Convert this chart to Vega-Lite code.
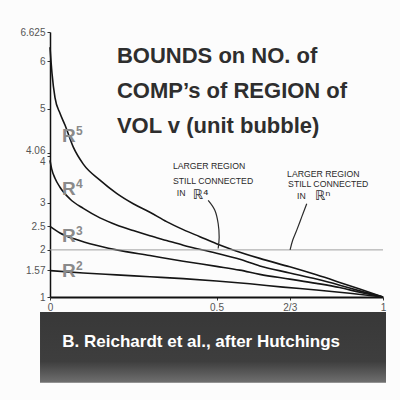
{
  "$schema": "https://vega.github.io/schema/vega-lite/v6.json",
  "width": 333,
  "height": 265,
  "autosize": {"type": "none"},
  "padding": {"left": 50, "top": 32, "right": 17, "bottom": 103},
  "background": "#fcfcfc",
  "config": {"view": {"stroke": null}, "font": "Liberation Sans",
    "axis": {"labelOverlap": false, "labelBound": false, "labelFlush": false, "grid": false, "labelColor": "#555", "labelFontSize": 10, "labelPadding": 2, "tickSize": 3, "tickColor": "#333", "domainColor": "#111"}},
  "datasets": {
    "curves": [
      {"s": "R5", "x": 0, "y": 6.3}, {"s": "R5", "x": 0.006, "y": 5.75}, {"s": "R5", "x": 0.015, "y": 5.23}, {"s": "R5", "x": 0.03, "y": 4.9}, {"s": "R5", "x": 0.045, "y": 4.65}, {"s": "R5", "x": 0.07, "y": 4.18}, {"s": "R5", "x": 0.1, "y": 3.82}, {"s": "R5", "x": 0.15, "y": 3.48}, {"s": "R5", "x": 0.2, "y": 3.2}, {"s": "R5", "x": 0.25, "y": 2.98}, {"s": "R5", "x": 0.3, "y": 2.8}, {"s": "R5", "x": 0.35, "y": 2.6}, {"s": "R5", "x": 0.4, "y": 2.43}, {"s": "R5", "x": 0.45, "y": 2.28}, {"s": "R5", "x": 0.5, "y": 2.13}, {"s": "R5", "x": 0.55, "y": 2.0}, {"s": "R5", "x": 0.63, "y": 1.82}, {"s": "R5", "x": 0.72, "y": 1.64}, {"s": "R5", "x": 0.8, "y": 1.47}, {"s": "R5", "x": 0.87, "y": 1.31}, {"s": "R5", "x": 0.93, "y": 1.17}, {"s": "R5", "x": 1, "y": 1},
      {"s": "R4", "x": 0, "y": 3.9}, {"s": "R4", "x": 0.005, "y": 3.72}, {"s": "R4", "x": 0.015, "y": 3.52}, {"s": "R4", "x": 0.03, "y": 3.33}, {"s": "R4", "x": 0.06, "y": 3.08}, {"s": "R4", "x": 0.1, "y": 2.88}, {"s": "R4", "x": 0.15, "y": 2.68}, {"s": "R4", "x": 0.2, "y": 2.53}, {"s": "R4", "x": 0.25, "y": 2.41}, {"s": "R4", "x": 0.3, "y": 2.3}, {"s": "R4", "x": 0.35, "y": 2.2}, {"s": "R4", "x": 0.4, "y": 2.1}, {"s": "R4", "x": 0.5, "y": 1.93}, {"s": "R4", "x": 0.57, "y": 1.8}, {"s": "R4", "x": 0.63, "y": 1.66}, {"s": "R4", "x": 0.72, "y": 1.51}, {"s": "R4", "x": 0.8, "y": 1.38}, {"s": "R4", "x": 0.87, "y": 1.25}, {"s": "R4", "x": 0.93, "y": 1.13}, {"s": "R4", "x": 1, "y": 1},
      {"s": "R3", "x": 0, "y": 2.5}, {"s": "R3", "x": 0.03, "y": 2.36}, {"s": "R3", "x": 0.07, "y": 2.24}, {"s": "R3", "x": 0.12, "y": 2.13}, {"s": "R3", "x": 0.2, "y": 2.0}, {"s": "R3", "x": 0.3, "y": 1.88}, {"s": "R3", "x": 0.4, "y": 1.76}, {"s": "R3", "x": 0.5, "y": 1.65}, {"s": "R3", "x": 0.57, "y": 1.57}, {"s": "R3", "x": 0.63, "y": 1.48}, {"s": "R3", "x": 0.72, "y": 1.38}, {"s": "R3", "x": 0.8, "y": 1.29}, {"s": "R3", "x": 0.87, "y": 1.2}, {"s": "R3", "x": 0.93, "y": 1.1}, {"s": "R3", "x": 1, "y": 1},
      {"s": "R2", "x": 0, "y": 1.56}, {"s": "R2", "x": 0.1, "y": 1.51}, {"s": "R2", "x": 0.2, "y": 1.47}, {"s": "R2", "x": 0.3, "y": 1.43}, {"s": "R2", "x": 0.4, "y": 1.39}, {"s": "R2", "x": 0.5, "y": 1.34}, {"s": "R2", "x": 0.6, "y": 1.28}, {"s": "R2", "x": 0.7, "y": 1.21}, {"s": "R2", "x": 0.8, "y": 1.15}, {"s": "R2", "x": 0.9, "y": 1.08}, {"s": "R2", "x": 1, "y": 1}
    ],
    "rlabels": [
      {"n": "5", "x": 0.036, "y": 4.28},
      {"n": "4", "x": 0.036, "y": 3.16},
      {"n": "3", "x": 0.036, "y": 2.16},
      {"n": "2", "x": 0.036, "y": 1.42}
    ],
    "notes": [
      {"t": "LARGER REGION", "x": 0.369, "y": 3.72},
      {"t": "STILL CONNECTED", "x": 0.369, "y": 3.4},
      {"t": "IN", "x": 0.381, "y": 3.14},
      {"t": "LARGER REGION", "x": 0.712, "y": 3.54},
      {"t": "STILL CONNECTED", "x": 0.715, "y": 3.33},
      {"t": "IN", "x": 0.742, "y": 3.09}
    ],
    "reals": [
      {"t": "ℝ⁴", "x": 0.429, "y": 3.09},
      {"t": "ℝⁿ", "x": 0.796, "y": 3.05}
    ],
    "arrows": [
      {"a": 1, "i": 0, "x": 0.475, "y": 3.05}, {"a": 1, "i": 1, "x": 0.495, "y": 2.84}, {"a": 1, "i": 2, "x": 0.505, "y": 2.56}, {"a": 1, "i": 3, "x": 0.508, "y": 2.27}, {"a": 1, "i": 4, "x": 0.505, "y": 2.03},
      {"a": 2, "i": 0, "x": 0.771, "y": 2.98}, {"a": 2, "i": 1, "x": 0.756, "y": 2.7}, {"a": 2, "i": 2, "x": 0.741, "y": 2.42}, {"a": 2, "i": 3, "x": 0.729, "y": 2.21}, {"a": 2, "i": 4, "x": 0.721, "y": 2.0}
    ]
  },
  "layer": [
    {
      "data": {"name": "curves"},
      "mark": {"type": "line", "interpolate": "monotone", "color": "#151515", "strokeWidth": 1.6},
      "encoding": {
        "x": {"field": "x", "type": "quantitative", "title": null,
          "scale": {"domain": [0, 1], "nice": false, "zero": false},
          "axis": {"values": [0, 0.5, 0.72, 1], "tickCount": 20, "labelExpr": "datum.value == 0.72 ? '2/3' : format(datum.value, '~g')",
            "domainWidth": 2}},
        "y": {"field": "y", "type": "quantitative", "title": null,
          "scale": {"domain": [1, 6.625], "nice": false, "zero": false},
          "axis": {"values": [1, 1.57, 2, 2.5, 3, 4, 4.06, 5, 6, 6.625], "tickCount": 20, "labelExpr": "format(datum.value, '~g')", "domainWidth": 1.5,
            "labelOffset": {"condition": [{"test": "datum.value === 4", "value": 6}, {"test": "datum.value === 4.06", "value": -2}], "value": 0}}},
        "detail": {"field": "s", "type": "nominal"}
      }
    },
    {
      "data": {"values": [{}]},
      "mark": {"type": "rect", "fill": {"gradient": "linear", "x1": 0, "y1": 0, "x2": 0, "y2": 1, "stops": [{"offset": 0, "color": "#383838"}, {"offset": 0.7, "color": "#3e3e3e"}, {"offset": 1, "color": "#707070"}]}},
      "encoding": {
        "x": {"datum": -0.03, "type": "quantitative"}, "x2": {"datum": 1.009},
        "y": {"datum": 0.683, "type": "quantitative"}, "y2": {"datum": -0.82}
      }
    },
    {
      "data": {"values": [{}]},
      "mark": {"type": "text", "text": "B. Reichardt et al., after Hutchings", "align": "center", "baseline": "alphabetic", "fontSize": 17, "fontWeight": "bold", "color": "#ffffff"},
      "encoding": {"x": {"datum": 0.454, "type": "quantitative"}, "y": {"datum": -0.057, "type": "quantitative"}}
    },
    {
      "data": {"values": [{}]},
      "mark": {"type": "rule", "color": "#a0a0a0", "strokeWidth": 1},
      "encoding": {"y": {"datum": 2, "type": "quantitative"}, "x": {"datum": 0, "type": "quantitative"}, "x2": {"datum": 1}}
    },
    {
      "data": {"name": "rlabels"},
      "mark": {"type": "text", "text": "R", "align": "left", "baseline": "alphabetic", "fontSize": 19, "fontWeight": "bold", "color": "#8a8a8a"},
      "encoding": {"x": {"field": "x", "type": "quantitative"}, "y": {"field": "y", "type": "quantitative"}}
    },
    {
      "data": {"name": "rlabels"},
      "mark": {"type": "text", "align": "left", "baseline": "alphabetic", "fontSize": 12, "fontWeight": "bold", "color": "#8a8a8a", "dx": 14, "dy": -7},
      "encoding": {"x": {"field": "x", "type": "quantitative"}, "y": {"field": "y", "type": "quantitative"}, "text": {"field": "n"}}
    },
    {
      "data": {"values": [{}]},
      "mark": {"type": "text", "text": ["BOUNDS on NO. of", "COMP’s of REGION of", "VOL v (unit bubble)"], "align": "left", "baseline": "alphabetic", "fontSize": 22, "fontWeight": "bold", "lineHeight": 35, "color": "#2e2e2e"},
      "encoding": {"x": {"datum": 0.201, "type": "quantitative"}, "y": {"datum": 5.97, "type": "quantitative"}}
    },
    {
      "data": {"name": "notes"},
      "mark": {"type": "text", "align": "left", "baseline": "alphabetic", "fontSize": 8.7, "color": "#2a2a2a", "font": "Liberation Sans"},
      "encoding": {"x": {"field": "x", "type": "quantitative"}, "y": {"field": "y", "type": "quantitative"}, "text": {"field": "t"}}
    },
    {
      "data": {"name": "reals"},
      "mark": {"type": "text", "align": "left", "baseline": "alphabetic", "fontSize": 13, "color": "#2a2a2a", "font": "DejaVu Sans"},
      "encoding": {"x": {"field": "x", "type": "quantitative"}, "y": {"field": "y", "type": "quantitative"}, "text": {"field": "t"}}
    },
    {
      "data": {"name": "arrows"},
      "mark": {"type": "line", "interpolate": "cardinal", "color": "#2a2a2a", "strokeWidth": 1.2},
      "encoding": {"x": {"field": "x", "type": "quantitative"}, "y": {"field": "y", "type": "quantitative"}, "detail": {"field": "a", "type": "nominal"}, "order": {"field": "i", "type": "quantitative"}}
    }
  ]
}
